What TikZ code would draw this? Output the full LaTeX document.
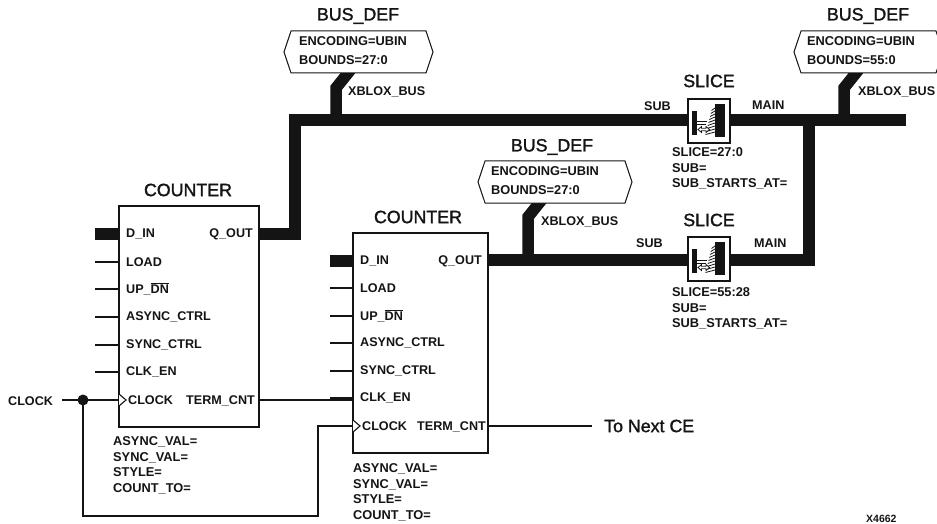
\documentclass[tikz,border=0pt]{standalone}
\usepackage{fontspec}
\setmainfont{Liberation Sans}
\newfontfamily\titlefont[FakeBold=1.5]{Liberation Sans}
\usetikzlibrary{shapes.symbols, arrows.meta, positioning, calc}
\definecolor{inkblack}{RGB}{20, 20, 20}
\tikzstyle{title} = [inner sep=0pt, text=inkblack, font=\titlefont\fontsize{17.8}{20}\selectfont]
\tikzstyle{lbl} = [inner sep=0pt, anchor=west, text=inkblack, font=\fontsize{12.6}{15}\selectfont\bfseries]
\tikzstyle{attr} = [lbl, align=left, font=\fontsize{12.8}{15.6}\selectfont\bfseries]
\tikzstyle{tagtext} = [attr, anchor=north west, font=\fontsize{12.8}{18.5}\selectfont\bfseries]
\tikzstyle{block} = [rectangle, draw=inkblack, fill=white, inner sep=0pt, line width=1.3pt]
\tikzstyle{tag} = [signal, signal to=west and east, signal pointer angle=143, draw=inkblack, fill=white, inner sep=0pt, minimum height=42, line width=1pt]
\tikzstyle{bus} = [draw=inkblack, line width=12.5pt, line cap=butt, line join=miter]
\tikzstyle{stub} = [draw=inkblack, line width=11.5pt, line join=miter]
\tikzstyle{wire} = [draw=inkblack, line width=1.1pt]
\newcommand{\sliceicon}[1]{%
  \begin{scope}[shift={(#1)}]
    \fill[inkblack] (-17,-10) rectangle (-12,14);
    \fill[inkblack] (6,-17) rectangle (16,16);
    \foreach \i in {0,...,8} {
      \draw[inkblack, line width=0.8pt] ({6},{-13+3*\i}) -- ({2.5-0.75*\i},{-10.5+3*\i});
    }
    \draw[inkblack, line width=1pt] (-12,1) -- (-2,1);
    \draw[inkblack, line width=1pt] (-12,4) -- (-3,4);
    \draw[inkblack, fill=white, line width=0.8pt] (-11,8.5) -- (-7.5,5.5) -- (-7.5,7.3) -- (-3,7.3) -- (-3,5.5) -- (0.5,8.5) -- (-3,11.5) -- (-3,9.7) -- (-7.5,9.7) -- (-7.5,11.5) -- cycle;
  \end{scope}}

\begin{document}
\begin{tikzpicture}[x=1pt, y=-1pt]
    \useasboundingbox (0,0) rectangle (937,524);

    % Left counter
    \node[block, minimum width=140, minimum height=221] (cnta) at (189,316.5) {};
    \node[title] (cntatitle) at (188,190) {COUNTER};
    \node[lbl] (adin) at (126,234) {D\_IN};
    \node[lbl] (aload) at (126,262) {LOAD};
    \node[lbl] (aupdn) at (126,289) {UP\_$\overline{\mbox{DN}}$};
    \node[lbl] (aasync) at (126,317) {ASYNC\_CTRL};
    \node[lbl] (async) at (126,345) {SYNC\_CTRL};
    \node[lbl] (aclken) at (126,372) {CLK\_EN};
    \node[lbl] (aclock) at (128,400) {CLOCK};
    \node[lbl, anchor=east] (aqout) at (253,234) {Q\_OUT};
    \node[lbl, anchor=east] (aterm) at (255,401) {TERM\_CNT};
    \node[attr, anchor=north west] (aattr) at (113,436.5) {ASYNC\_VAL=\\SYNC\_VAL=\\STYLE=\\COUNT\_TO=};

    % Right counter
    \node[block, minimum width=135, minimum height=220] (cntb) at (420.5,343) {};
    \node[title] (cntbtitle) at (418,217) {COUNTER};
    \node[lbl] (bdin) at (360,261) {D\_IN};
    \node[lbl] (bload) at (360,288) {LOAD};
    \node[lbl] (bupdn) at (360,316) {UP\_$\overline{\mbox{DN}}$};
    \node[lbl] (basync) at (360,343) {ASYNC\_CTRL};
    \node[lbl] (bsync) at (360,371) {SYNC\_CTRL};
    \node[lbl] (bclken) at (360,398) {CLK\_EN};
    \node[lbl] (bclock) at (362,426) {CLOCK};
    \node[lbl, anchor=east] (bqout) at (482,261) {Q\_OUT};
    \node[lbl, anchor=east] (bterm) at (486,427) {TERM\_CNT};
    \node[attr, anchor=north west] (battr) at (353,463.5) {ASYNC\_VAL=\\SYNC\_VAL=\\STYLE=\\COUNT\_TO=};

    % Slices
    \node[title] (slatitle) at (709,81) {SLICE};
    \node[title] (slbtitle) at (709,220) {SLICE};
    \node[attr, anchor=north west] (slaattr) at (672,147.5) {SLICE=27:0\\SUB=\\SUB\_STARTS\_AT=};
    \node[attr, anchor=north west] (slbattr) at (672,287.5) {SLICE=55:28\\SUB=\\SUB\_STARTS\_AT=};

    % Wire labels
    \node[lbl] (xbusa) at (348,92) {XBLOX\_BUS};
    \node[lbl] (xbusb) at (541,222) {XBLOX\_BUS};
    \node[lbl] (xbusc) at (858,92) {XBLOX\_BUS};
    \node[lbl] (suba) at (644,106) {SUB};
    \node[lbl] (maina) at (752,105) {MAIN};
    \node[lbl] (subb) at (636,243) {SUB};
    \node[lbl] (mainb) at (754,243) {MAIN};
    \node[lbl] (clockin) at (8,401) {CLOCK};
    \node[title, anchor=west] (nextce) at (604,426) {To Next CE};
    \node[lbl, font=\fontsize{10.5}{12}\selectfont\bfseries] (xnum) at (866,519) {X4662};

    % Coordinates of the bus runs
    \coordinate (busaend) at (906,120);
    \coordinate (busatop) at (295,120);
    \coordinate (dropa) at (809,120);
    \coordinate (dropb) at (809,260);
    \coordinate (junc) at (83,400);
    \coordinate (clkbot) at (83,516);
    \coordinate (clkup) at (318,516);

    % Buses
    \draw[bus] (cnta.east |- aqout) -| (busatop) -- (busaend);
    \draw[bus] (cnta.west |- adin) -- ++(-23,0);
    \draw[bus] (cntb.west |- bdin) -- ++(-22,0);
    \draw[bus] (cntb.east |- dropb) -| (dropa);
    \draw[stub] (336,120) -- (336,88) -- (352,68);
    \draw[stub] (528,260) -- (528,217) -- (544,197);
    \draw[stub] (844,120) -- (844,88) -- (860,68);

    % Bus definitions
    \node[title] (defatitle) at (358,16) {BUS\_DEF};
    \node[title] (defbtitle) at (552,147) {BUS\_DEF};
    \node[title] (defctitle) at (868,16) {BUS\_DEF};
    \node[tag, minimum width=149] (defa) at (358.5,52) {};
    \node[tag, minimum width=154] (defb) at (555,182) {};
    \node[tag, minimum width=149] (defc) at (868.5,52) {};
    \node[tagtext] (defatext) at (299,36.5) {ENCODING=UBIN\\BOUNDS=27:0};
    \node[tagtext] (defbtext) at (491,166.5) {ENCODING=UBIN\\BOUNDS=27:0};
    \node[tagtext] (defctext) at (807,36.5) {ENCODING=UBIN\\BOUNDS=55:0};

    % Slice blocks on the buses
    \node[block, minimum width=42, minimum height=44] (slicea) at (709,121) {};
    \node[block, minimum width=42, minimum height=44] (sliceb) at (709,259) {};
    \sliceicon{slicea.center}
    \sliceicon{sliceb.center}

    % Control pins
    \draw[wire] (cnta.west |- aload) -- ++(-23,0);
    \draw[wire] (cnta.west |- aupdn) -- ++(-23,0);
    \draw[wire] (cnta.west |- aasync) -- ++(-23,0);
    \draw[wire] (cnta.west |- async) -- ++(-23,0);
    \draw[wire] (cnta.west |- aclken) -- ++(-23,0);
    \draw[wire] (cntb.west |- bload) -- ++(-22,0);
    \draw[wire] (cntb.west |- bupdn) -- ++(-22,0);
    \draw[wire] (cntb.west |- basync) -- ++(-22,0);
    \draw[wire] (cntb.west |- bsync) -- ++(-22,0);
    \draw[wire] (cntb.west |- bclken) -- ++(-22,0);

    % Clock and terminal count
    \draw[wire] (62,400) -- (cnta.west |- 0,400);
    \draw[wire] (junc) -- (clkbot) -- (clkup) |- (cntb.west |- bclock);
    \fill[inkblack] (junc) circle (5.5);
    \draw[wire] (cnta.east |- 0,400) -- (cntb.west |- 0,400);
    \draw[wire] (cntb.east |- bclock) -- (592,426);
    \draw[wire, fill=white] (119,394) -- (126,400) -- (119,406);
    \draw[wire, fill=white] (353,420) -- (360,426) -- (353,432);
\end{tikzpicture}
\end{document}
